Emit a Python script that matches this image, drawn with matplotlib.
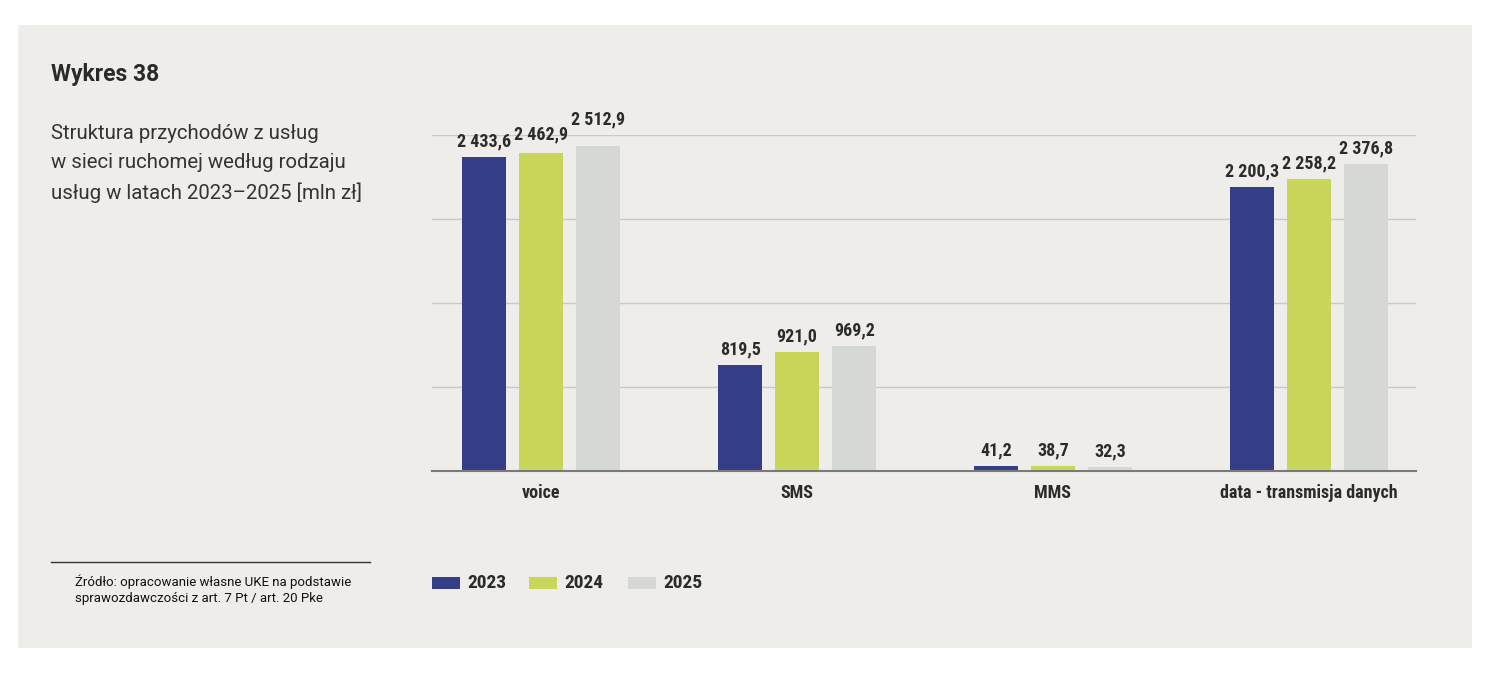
import matplotlib
matplotlib.use("Agg")
import matplotlib.pyplot as plt
from matplotlib.patches import Rectangle
import numpy as np

categories = ["voice", "SMS", "MMS", "data - transmisja danych"]
years = ["2023", "2024", "2025"]
v2023 = [2433.6, 819.5, 41.2, 2200.3]
v2024 = [2462.9, 921.0, 38.7, 2258.2]
v2025 = [2512.9, 969.2, 32.3, 2376.8]
series = [v2023, v2024, v2025]
colors = ["#353f88", "#c9d65a", "#d6d8d6"]

title = "Wykres 38"
subtitle = "Struktura przychodów z usług\nw sieci ruchomej według rodzaju\nusług w latach 2023–2025 [mln zł]"
source = "Źródło: opracowanie własne UKE na podstawie\nsprawozdawczości z art. 7 Pt / art. 20 Pke"

# extra upward shift (points) of some value labels, to avoid overlap (style only)
label_shift = {(1, 0): 2.5, (2, 0): 8}

def fmt(v):
    s = f"{v:,.1f}"
    return s.replace(",", " ").replace(".", ",")

W, H = 1500, 674
fig = plt.figure(figsize=(W / 100, H / 100), dpi=100)
fig.patch.set_facecolor("white")
fig.patches.append(Rectangle((18 / W, 1 - 648 / H), (1472 - 18) / W, (648 - 25) / H,
                             transform=fig.transFigure, facecolor="#efedea",
                             edgecolor="none", zorder=-10))

bold_cond = dict(family=["Roboto Condensed", "Roboto"], fontweight="bold")

ax = fig.add_axes([432 / W, 1 - 471 / H, (1416 - 432) / W, (471 - 135) / H])
ax.set_zorder(1)
ax.set_facecolor("none")
x = np.arange(len(categories))
pitch = 0.223
bw = 0.172
for i, (vals, col) in enumerate(zip(series, colors)):
    xs = x + (i - 1) * pitch
    ax.bar(xs, vals, width=bw, color=col, zorder=3)
    for j, (xi, v) in enumerate(zip(xs, vals)):
        dy = 4.5 + label_shift.get((i, j), 0)
        ax.annotate(fmt(v), (xi, v), xytext=(0, dy), textcoords="offset points",
                    ha="center", va="bottom", fontsize=13, color="#2b2b2b",
                    clip_on=False, **bold_cond)

ax.set_xlim(-0.428, 3.42)
ax.set_ylim(0, 2600)
ax.set_yticks([0, 650, 1300, 1950, 2600])
ax.yaxis.grid(True, color="#c9c9c9", linewidth=1, zorder=0)
ax.set_axisbelow(True)
ax.tick_params(axis="y", left=False, labelleft=False)
ax.set_xticks(x)
ax.set_xticklabels(categories)
for lab in ax.get_xticklabels():
    lab.set_fontsize(13)
    lab.set_color("#2b2b2b")
    lab.set_fontweight("bold")
    lab.set_family(["Roboto Condensed", "Roboto"])
ax.tick_params(axis="x", length=0, pad=9)
for s in ["top", "right", "left"]:
    ax.spines[s].set_visible(False)
ax.spines["bottom"].set_color("#7a7a7a")
ax.spines["bottom"].set_linewidth(1.5)
ax.spines["bottom"].set_zorder(4)

fig.text(51 / W, 1 - 74 / H, title, fontsize=16.5, fontweight="bold", family="Roboto",
         color="#2a2a2a", va="center", ha="left")
fig.text(51 / W, 1 - 163.5 / H, subtitle, fontsize=14.65, family="Roboto", color="#333333",
         va="center", ha="left", linespacing=1.63)

fig.add_artist(plt.Line2D([51 / W, 370 / W], [1 - 562 / H, 1 - 562 / H],
                          transform=fig.transFigure, color="#333333", linewidth=1))
fig.text(75 / W, 1 - 589.5 / H, source, fontsize=9.5, family="Roboto", color="#111111",
         va="center", ha="left", linespacing=1.3)

leg_x = [432, 529, 628]
for lx, yr, col in zip(leg_x, years, colors):
    fig.patches.append(Rectangle((lx / W, 1 - 589 / H), 28 / W, 12 / H,
                                 transform=fig.transFigure, facecolor=col,
                                 edgecolor="none", zorder=2))
    fig.text((lx + 35) / W, 1 - 583 / H, yr, fontsize=14, color="#2b2b2b",
             va="center", ha="left", **bold_cond)

fig.savefig("out.png", dpi=100, facecolor=fig.get_facecolor())
